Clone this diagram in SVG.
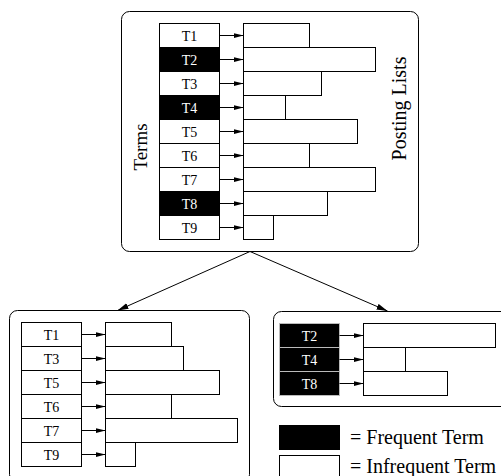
<svg xmlns="http://www.w3.org/2000/svg" width="501" height="476" viewBox="0 0 501 476">
  <style>
    .box { fill: #fff; stroke: #000; stroke-width: 1; }
    .cell { fill: #fff; stroke: #000; stroke-width: 1; }
    .freq { fill: #000; stroke: #000; stroke-width: 1; }
    .freq2 { fill: #000; stroke: #bbb; stroke-width: 1; }
    .post { fill: #fff; stroke: #000; stroke-width: 1; }
    .ptr { stroke: #000; stroke-width: 1; fill: none; marker-end: url(#head); }
    .split { stroke: #000; stroke-width: 1; fill: none; marker-end: url(#bighead); }
    .lbl { font-size: 14px; text-anchor: middle; fill: #000; }
    .lblw { font-size: 14px; text-anchor: middle; fill: #fff; }
    .title { font-size: 19px; text-anchor: middle; fill: #000; }
    .title2 { font-size: 20px; text-anchor: middle; fill: #000; }
    .legend { font-size: 20px; fill: #000; }
  </style>
  <defs>
    <marker id="head" markerUnits="userSpaceOnUse" markerWidth="11" markerHeight="6" refX="10" refY="2.5" orient="auto">
      <path d="M0,0 L10,2.5 L0,5 z" fill="#000"/>
    </marker>
    <marker id="bighead" markerUnits="userSpaceOnUse" markerWidth="12" markerHeight="7" refX="11" refY="3" orient="auto">
      <path d="M0,0 L11,3 L0,6 z" fill="#000"/>
    </marker>
  </defs>

  <g font-family="'Liberation Serif', 'DejaVu Serif', 'Times New Roman', serif">
  <!-- full index -->
  <g id="index-all">
    <rect class="box" x="121.5" y="11.5" width="297" height="240" rx="8"/>
    <text class="title" transform="translate(147,147) rotate(-90)">Terms</text>
    <text class="title2" transform="translate(405.5,108.5) rotate(-90)">Posting Lists</text>
    <rect class="cell" x="159.5" y="23.5" width="60" height="24"/>
    <rect class="freq" x="159.5" y="47.5" width="60" height="24"/>
    <rect class="cell" x="159.5" y="71.5" width="60" height="24"/>
    <rect class="freq" x="159.5" y="95.5" width="60" height="24"/>
    <rect class="cell" x="159.5" y="119.5" width="60" height="24"/>
    <rect class="cell" x="159.5" y="143.5" width="60" height="24"/>
    <rect class="cell" x="159.5" y="167.5" width="60" height="24"/>
    <rect class="freq" x="159.5" y="191.5" width="60" height="24"/>
    <rect class="cell" x="159.5" y="215.5" width="60" height="24"/>
    <text class="lbl" x="189.5" y="41">T1</text>
    <text class="lblw" x="189.5" y="65">T2</text>
    <text class="lbl" x="189.5" y="89">T3</text>
    <text class="lblw" x="189.5" y="113">T4</text>
    <text class="lbl" x="189.5" y="137">T5</text>
    <text class="lbl" x="189.5" y="161">T6</text>
    <text class="lbl" x="189.5" y="185">T7</text>
    <text class="lblw" x="189.5" y="209">T8</text>
    <text class="lbl" x="189.5" y="233">T9</text>
    <rect class="post" x="243.5" y="23.5" width="66" height="24"/>
    <rect class="post" x="243.5" y="47.5" width="132" height="24"/>
    <rect class="post" x="243.5" y="71.5" width="78" height="24"/>
    <rect class="post" x="243.5" y="95.5" width="42" height="24"/>
    <rect class="post" x="243.5" y="119.5" width="114" height="24"/>
    <rect class="post" x="243.5" y="143.5" width="66" height="24"/>
    <rect class="post" x="243.5" y="167.5" width="132" height="24"/>
    <rect class="post" x="243.5" y="191.5" width="84" height="24"/>
    <rect class="post" x="243.5" y="215.5" width="30" height="24"/>
    <path class="ptr" d="M219.5,35.5H243.5"/>
    <path class="ptr" d="M219.5,59.5H243.5"/>
    <path class="ptr" d="M219.5,83.5H243.5"/>
    <path class="ptr" d="M219.5,107.5H243.5"/>
    <path class="ptr" d="M219.5,131.5H243.5"/>
    <path class="ptr" d="M219.5,155.5H243.5"/>
    <path class="ptr" d="M219.5,179.5H243.5"/>
    <path class="ptr" d="M219.5,203.5H243.5"/>
    <path class="ptr" d="M219.5,227.5H243.5"/>
  </g>

  <!-- infrequent-term index -->
  <g id="index-infrequent">
    <rect class="box" x="9.5" y="310.5" width="240" height="172" rx="8"/>
    <rect class="cell" x="21.5" y="322.5" width="60" height="24"/>
    <rect class="cell" x="21.5" y="346.5" width="60" height="24"/>
    <rect class="cell" x="21.5" y="370.5" width="60" height="24"/>
    <rect class="cell" x="21.5" y="394.5" width="60" height="24"/>
    <rect class="cell" x="21.5" y="418.5" width="60" height="24"/>
    <rect class="cell" x="21.5" y="442.5" width="60" height="24"/>
    <text class="lbl" x="51.5" y="340">T1</text>
    <text class="lbl" x="51.5" y="364">T3</text>
    <text class="lbl" x="51.5" y="388">T5</text>
    <text class="lbl" x="51.5" y="412">T6</text>
    <text class="lbl" x="51.5" y="436">T7</text>
    <text class="lbl" x="51.5" y="460">T9</text>
    <rect class="post" x="105.5" y="322.5" width="66" height="24"/>
    <rect class="post" x="105.5" y="346.5" width="78" height="24"/>
    <rect class="post" x="105.5" y="370.5" width="114" height="24"/>
    <rect class="post" x="105.5" y="394.5" width="66" height="24"/>
    <rect class="post" x="105.5" y="418.5" width="132" height="24"/>
    <rect class="post" x="105.5" y="442.5" width="30" height="24"/>
    <path class="ptr" d="M81.5,334.5H105.5"/>
    <path class="ptr" d="M81.5,358.5H105.5"/>
    <path class="ptr" d="M81.5,382.5H105.5"/>
    <path class="ptr" d="M81.5,406.5H105.5"/>
    <path class="ptr" d="M81.5,430.5H105.5"/>
    <path class="ptr" d="M81.5,454.5H105.5"/>
  </g>

  <!-- frequent-term index -->
  <g id="index-frequent">
    <rect class="box" x="273.5" y="311.5" width="240" height="95" rx="8"/>
    <rect class="freq2" x="279.5" y="323.5" width="60" height="24"/>
    <rect class="freq2" x="279.5" y="347.5" width="60" height="24"/>
    <rect class="freq2" x="279.5" y="371.5" width="60" height="24"/>
    <text class="lblw" x="309.5" y="341">T2</text>
    <text class="lblw" x="309.5" y="365">T4</text>
    <text class="lblw" x="309.5" y="389">T8</text>
    <rect class="post" x="363.5" y="323.5" width="132" height="24"/>
    <rect class="post" x="363.5" y="347.5" width="42" height="24"/>
    <rect class="post" x="363.5" y="371.5" width="84" height="24"/>
    <path class="ptr" d="M339.5,335.5H363.5"/>
    <path class="ptr" d="M339.5,359.5H363.5"/>
    <path class="ptr" d="M339.5,383.5H363.5"/>
  </g>

  <!-- legend -->
  <g id="legend">
    <rect class="freq" x="279.5" y="425.5" width="60" height="24"/>
    <rect class="cell" x="279.5" y="455.5" width="60" height="24"/>
    <text class="legend" x="350" y="444">= Frequent Term</text>
    <text class="legend" x="350" y="473">= Infrequent Term</text>
  </g>
  </g>

  <!-- split connectors -->
  <g id="connectors">
    <path class="split" d="M250,251.5L117.5,310.5"/>
    <path class="split" d="M250,251.5L387.5,311"/>
  </g>
</svg>
